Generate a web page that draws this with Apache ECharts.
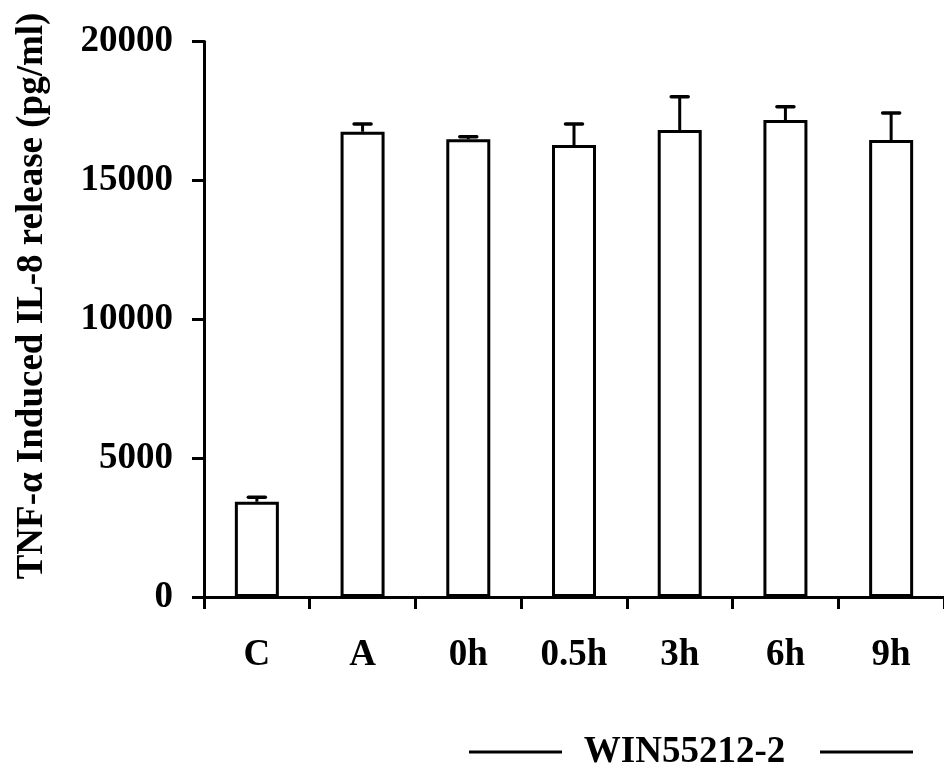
<!DOCTYPE html>
<html>
<head>
<meta charset="utf-8">
<script src="https://cdn.jsdelivr.net/npm/echarts@6/dist/echarts.min.js"></script>
<style>
  html, body { margin: 0; padding: 0; background: #fff; }
  #chart { width: 944px; height: 772px; }
</style>
</head>
<body>
<div id="chart"></div>
<script>
const categories = ['C', 'A', '0h', '0.5h', '3h', '6h', '9h'];
const meanValues = [3430, 16750, 16480, 16270, 16810, 17170, 16450];
const errorValues = [160, 280, 90, 760, 1200, 480, 980];
const yTicks = { min: 0, max: 20000, interval: 5000 };
const yTitle = 'TNF-\u03b1 Induced IL-8 release (pg/ml)';
const groupLabel = 'WIN55212-2';

const FONT = "'Liberation Serif', 'Times New Roman', serif";
const chart = echarts.init(document.getElementById('chart'));

const errData = categories.map((c, i) => [i, meanValues[i], meanValues[i] + errorValues[i]]);

chart.setOption({
  animation: false,
  backgroundColor: '#ffffff',
  grid: { left: 204, right: 0, top: 41.5, bottom: 175, containLabel: false },
  xAxis: {
    type: 'category',
    data: categories,
    boundaryGap: true,
    axisLine: { lineStyle: { color: '#000', width: 3 } },
    axisTick: { show: true, alignWithLabel: false, length: 12, lineStyle: { color: '#000', width: 3 } },
    axisLabel: { color: '#000', fontFamily: FONT, fontWeight: 'bold', fontSize: 37, margin: 40 },
    splitLine: { show: false }
  },
  yAxis: {
    type: 'value',
    min: yTicks.min,
    max: yTicks.max,
    interval: yTicks.interval,
    axisLine: { show: true, lineStyle: { color: '#000', width: 3 } },
    axisTick: { show: true, length: 12, lineStyle: { color: '#000', width: 3 } },
    axisLabel: { color: '#000', fontFamily: FONT, fontWeight: 'bold', fontSize: 37, margin: 31,
                 formatter: function (v) { return String(v); } },
    splitLine: { show: false }
  },
  series: [
    {
      type: 'bar',
      data: meanValues,
      barWidth: 44,
      itemStyle: { color: '#fff', borderColor: '#000', borderWidth: 3 },
      z: 2
    },
    {
      type: 'custom',
      data: errData,
      z: 3,
      renderItem: function (params, api) {
        const x = api.value(0);
        const lo = api.coord([x, api.value(1)]);
        const hi = api.coord([x, api.value(2)]);
        const half = 8.5;
        return {
          type: 'group',
          children: [
            { type: 'line', shape: { x1: lo[0], y1: lo[1], x2: hi[0], y2: hi[1] },
              style: { stroke: '#000', lineWidth: 3 } },
            { type: 'line', shape: { x1: hi[0] - half, y1: hi[1], x2: hi[0] + half, y2: hi[1] },
              style: { stroke: '#000', lineWidth: 3.5, lineCap: 'round' } }
          ]
        };
      }
    }
  ],
  graphic: [
    {
      type: 'text',
      x: 32, y: 296,
      rotation: Math.PI / 2,
      style: {
        text: yTitle,
        fill: '#000',
        font: "bold 37px " + FONT,
        align: 'center',
        verticalAlign: 'middle'
      }
    },
    {
      type: 'text',
      x: 684.5, y: 752,
      style: {
        text: groupLabel,
        fill: '#000',
        font: "bold 37px " + FONT,
        align: 'center',
        verticalAlign: 'middle'
      }
    },
    { type: 'line', shape: { x1: 469, y1: 752, x2: 562, y2: 752 }, style: { stroke: '#000', lineWidth: 3 } },
    { type: 'line', shape: { x1: 820, y1: 752, x2: 913, y2: 752 }, style: { stroke: '#000', lineWidth: 3 } }
  ]
});
</script>
</body>
</html>
